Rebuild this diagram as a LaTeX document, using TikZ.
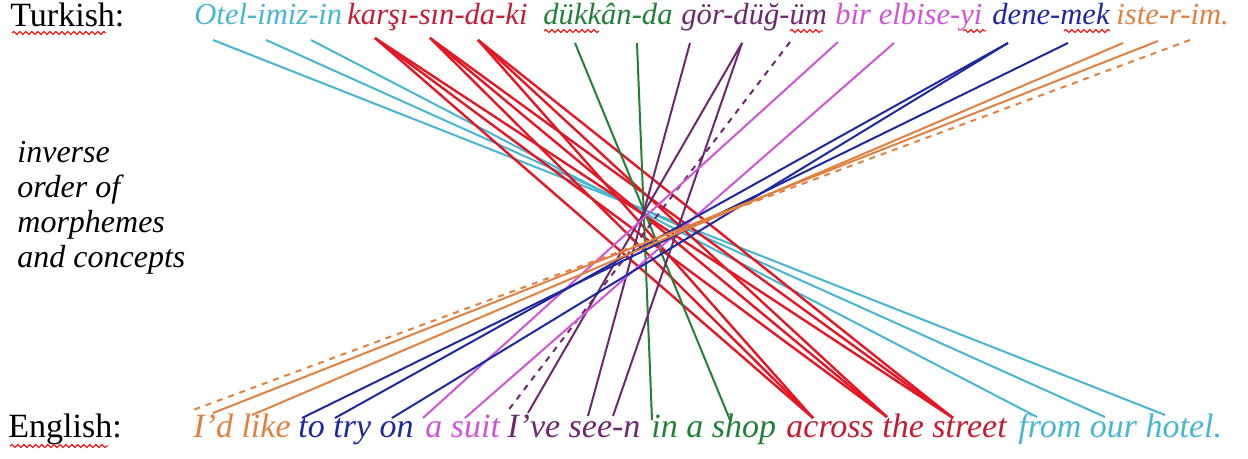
\documentclass[tikz,border=0pt]{standalone}
\usepackage{fontspec}
\setmainfont{Liberation Serif}
\usetikzlibrary{decorations.pathmorphing}

\definecolor{tcyan}{RGB}{72,182,210}
\definecolor{tred}{RGB}{196,28,52}
\definecolor{lred}{RGB}{228,24,36}
\definecolor{tgreen}{RGB}{34,128,56}
\definecolor{tpurple}{RGB}{110,40,110}
\definecolor{tmagenta}{RGB}{208,84,214}
\definecolor{tblue}{RGB}{30,40,160}
\definecolor{torange}{RGB}{226,128,64}

\begin{document}
\begin{tikzpicture}[
  x=0.5pt, y=-0.5pt,
  lang/.style={font=\fontsize{17}{20}\selectfont, anchor=base west, inner sep=0pt},
  tw/.style={font=\fontsize{15.3}{18}\selectfont\itshape, anchor=base west, inner sep=0pt},
  ew/.style={font=\fontsize{17}{20}\selectfont\itshape, anchor=base west, inner sep=0pt},
  ln/.style={line width=1pt},
  spell/.style={red, line width=0.5pt, decorate,
    decoration={snake, segment length=3pt, amplitude=0.8pt}}
]
  \useasboundingbox (0,0) rectangle (1248,459);

  \node[lang] (tr) at (10,27) {Turkish:};
  \node[lang] (en) at (8,438) {English:};
  \node[font=\fontsize{16}{17.5}\selectfont\itshape, align=left, anchor=north west, inner sep=0pt]
    (note) at (17,141) {inverse\\order of\\morphemes\\and concepts};

  \node[tw, text=tcyan]    (otel)   at (194,25)  {Otel-imiz-in};
  \node[tw, text=tred]     (karsi)  at (347,25)  {karşı-sın-da-ki};
  \node[tw, text=tgreen]   (dukkan) at (543,25)  {dükkân-da};
  \node[tw, text=tpurple]  (gor)    at (681,25)  {gör-düğ-üm};
  \node[tw, text=tmagenta] (bir)    at (835,25)  {bir elbise-yi};
  \node[tw, text=tblue]    (dene)   at (992,25)  {dene-mek};
  \node[tw, text=torange]  (iste)   at (1116,25) {iste-r-im.};

  \node[ew, text=torange]  (like)   at (193,438) {I’d like};
  \node[ew, text=tblue]    (try)    at (298,438) {to try on};
  \node[ew, text=tmagenta] (suit)   at (425,438) {a suit};
  \node[ew, text=tpurple]  (seen)   at (507,438) {I’ve see-n};
  \node[ew, text=tgreen]   (shop)   at (651,438) {in a shop};
  \node[ew, text=tred]     (street) at (786,438) {across the street};
  \node[ew, text=tcyan]    (hotel)  at (1018,438) {from our hotel.};

  \draw[spell] (12,33) -- (106,33);
  \draw[spell] (10,446) -- (108,446);
  \draw[spell] (544,31) -- (599,31);
  \draw[spell] (790,31) -- (823,31);
  \draw[spell] (963,31) -- (986,31);
  \draw[spell] (1064,31) -- (1110,31);

  \coordinate (t-otel) at (213,40);
  \coordinate (t-imiz) at (266,40);
  \coordinate (t-in)   at (311,40);
  \coordinate (t-karsi) at (375,38);
  \coordinate (t-sin)  at (430,38);
  \coordinate (t-daki) at (478,40);
  \coordinate (t-dukkan) at (575,43);
  \coordinate (t-da)   at (637,43);
  \coordinate (t-gor)  at (690,43);
  \coordinate (t-dug)  at (742,43);
  \coordinate (t-um)   at (790,42);
  \coordinate (t-bir)  at (838,42);
  \coordinate (t-elbise) at (894,43);
  \coordinate (t-dene) at (1008,43);
  \coordinate (t-mek)  at (1068,43);
  \coordinate (t-iste) at (1123,43);
  \coordinate (t-r)    at (1158,41);
  \coordinate (t-im)   at (1190,40);

  \coordinate (e-I)    at (193,410);
  \coordinate (e-d)    at (213,413);
  \coordinate (e-like) at (252,415);
  \coordinate (e-to)   at (302,418);
  \coordinate (e-try)  at (335,418);
  \coordinate (e-on)   at (392,418);
  \coordinate (e-a)    at (423,418);
  \coordinate (e-suit) at (465,418);
  \coordinate (e-Ive)  at (507,412);
  \coordinate (e-ve)   at (528,413);
  \coordinate (e-see)  at (588,416);
  \coordinate (e-n)    at (613,416);
  \coordinate (e-in)   at (652,420);
  \coordinate (e-shop) at (730,420);
  \coordinate (e-across) at (813,418);
  \coordinate (e-the)  at (887,417);
  \coordinate (e-street) at (953,418);
  \coordinate (e-from) at (1037,417);
  \coordinate (e-our)  at (1105,417);
  \coordinate (e-hotel) at (1165,415);

  \draw[ln, tcyan] (t-otel) -- (e-hotel);
  \draw[ln, tcyan] (t-imiz) -- (e-our);
  \draw[ln, tcyan] (t-in) -- (e-from);

  \foreach \s in {karsi,sin,daki}
    \foreach \e in {across,the,street}
      \draw[ln, lred, line width=1.2pt] (t-\s) -- (e-\e);

  \draw[ln, tgreen] (t-dukkan) -- (e-shop);
  \draw[ln, tgreen] (t-da) -- (e-in);

  \draw[ln, tpurple] (t-gor) -- (e-see);
  \draw[ln, tpurple] (t-dug) -- (e-n);
  \draw[ln, tpurple] (t-dug) -- (e-ve);
  \draw[ln, tpurple, dashed] (t-um) -- (e-Ive);

  \draw[ln, tmagenta] (t-bir) -- (e-a);
  \draw[ln, tmagenta] (t-elbise) -- (e-suit);

  \draw[ln, tblue] (t-dene) -- (e-try);
  \draw[ln, tblue] (t-dene) -- (e-on);
  \draw[ln, tblue] (t-mek) -- (e-to);

  \draw[ln, torange] (t-iste) -- (e-like);
  \draw[ln, torange] (t-r) -- (e-d);
  \draw[ln, torange, dashed] (t-im) -- (e-I);
\end{tikzpicture}
\end{document}
